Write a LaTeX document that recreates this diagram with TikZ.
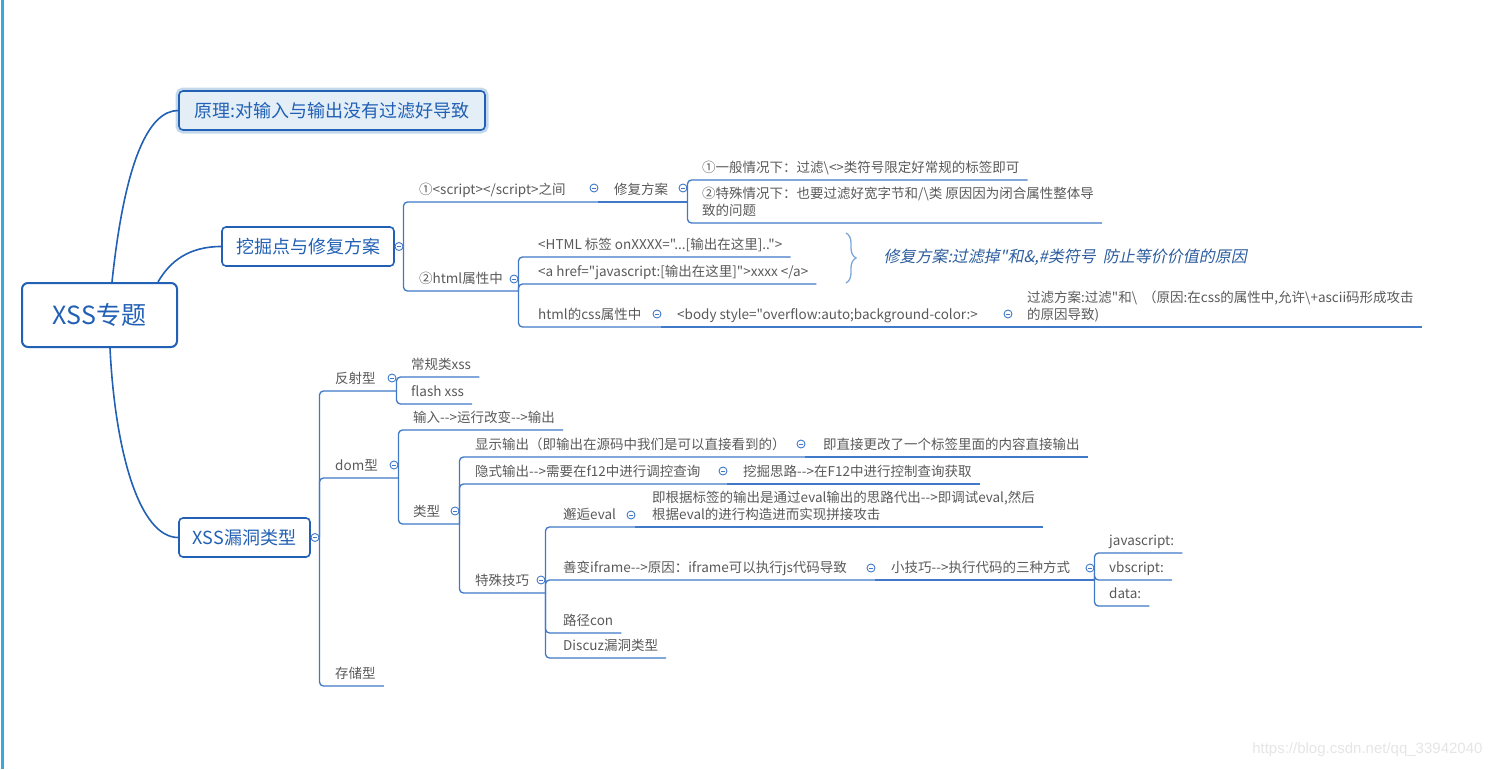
\documentclass[tikz,border=0pt]{standalone}
\usepackage{fontspec}
\setmainfont{Noto Sans CJK SC}[Ligatures=TeXOff]
\newfontfamily\slantfont{Noto Sans CJK SC}[FakeSlant=0.2,Ligatures=TeXOff]
\newfontfamily\markfont{Liberation Sans}
\usetikzlibrary{decorations.pathreplacing}
\definecolor{mapblue}{HTML}{2160B5}
\definecolor{linkblue}{HTML}{3F79C8}
\definecolor{leafgray}{HTML}{595959}
\definecolor{notefill}{HTML}{E3EEF7}
\definecolor{noteglow}{HTML}{C4D8EC}
\definecolor{sidebar}{HTML}{38A8DF}
\definecolor{braceblue}{HTML}{7EA8D8}
\definecolor{notetext}{HTML}{2D5D9E}
\newcommand{\leaffont}{\fontsize{13.5}{17}\selectfont}
\newcommand{\twoline}[2]{\begin{tabular}[b]{@{}l@{}}#1\\#2\end{tabular}}

\begin{document}
\begin{tikzpicture}[x=1pt, y=-1pt,
    root/.style={draw=mapblue, line width=2pt, rounded corners=6pt, text=mapblue, fill=white,
        font=\fontsize{25}{30}\selectfont, minimum width=155pt, minimum height=64pt},
    topic/.style={draw=mapblue, line width=1.6pt, rounded corners=4pt, text=mapblue, fill=white,
        font=\fontsize{18}{22}\selectfont, minimum height=39pt},
    leaf/.style={anchor=south west, text=leafgray, font=\leaffont, inner xsep=8pt, inner ysep=5pt, text depth=2pt},
    fold/.style={circle, draw=linkblue, fill=white, line width=0.9pt, inner sep=0pt, minimum size=8pt,
        path picture={\draw[linkblue, line width=0.8pt] ([xshift=-2.2pt]path picture bounding box.center) -- ([xshift=2.2pt]path picture bounding box.center);}},
    branch/.style={draw=linkblue, line width=1.3pt, rounded corners=4pt},
    trunk/.style={draw=mapblue, line width=1.6pt}]
    \useasboundingbox (0,0) rectangle (1494,769);
    \draw[sidebar, line width=3pt] (2,0) -- (2,769);

    \node[root] (xss) at (99.5,315) {XSS专题};
    \node[topic, minimum width=306pt, fill=notefill, preaction={draw=noteglow, line width=7pt}] (yuanli) at (332,110.5) {原理:对输入与输出没有过滤好导致};
    \node[topic, minimum width=172pt] (mine) at (308,246.5) {挖掘点与修复方案};
    \node[topic, minimum width=131pt] (types) at (244.5,537.5) {XSS漏洞类型};
    \draw[trunk] ([xshift=12.5pt]xss.north) .. controls +(13,-123) and +(-29,0) .. (yuanli.west);
    \draw[trunk] ([xshift=58.5pt]xss.north) .. controls +(12,-21) and +(-32,0) .. (mine.west);
    \draw[trunk] ([xshift=10.5pt]xss.south) .. controls +(5,103) and +(-39,0) .. (types.west);

    \node[leaf] (s1) at (411,202) {①<script></script>之间};
    \node[leaf] (fix) at (606,202) {修复方案};
    \node[leaf] (g1) at (694,180) {①一般情况下：过滤\textbackslash{}<>类符号限定好常规的标签即可};
    \node[leaf] (g2) at (694,223) {\twoline{②特殊情况下：也要过滤好宽字节和/\textbackslash{}类 原因因为闭合属性整体导}{致的问题}};
    \node[leaf] (html) at (411,291) {②html属性中};
    \node[leaf] (h1) at (530,257) {<HTML 标签 onXXXX="...[输出在这里]..">};
    \node[leaf] (h2) at (530,284) {<a href="javascript:[输出在这里]">xxxx </a>};
    \node[leaf] (h3) at (530,327) {html的css属性中};
    \node[leaf] (body) at (669,327) {<body style="overflow:auto;background-color:>};
    \node[leaf] (filt) at (1019,327) {\twoline{过滤方案:过滤"和\textbackslash{}\ \ （原因:在css的属性中,允许\textbackslash{}+ascii码形成攻击}{的原因导致)}};
    \node[anchor=west, text=notetext, font=\slantfont\fontsize{16}{19}\selectfont] (fixnote) at (880,257) {修复方案:过滤掉"和\&,\#类符号\ \ 防止等价价值的原因};
    \draw[braceblue, line width=1.3pt, decorate, decoration={brace, amplitude=10pt}] (846,233) -- (846,283);

    \node[leaf] (f) at (327,391) {反射型};
    \node[leaf] (f1) at (403,377) {常规类xss};
    \node[leaf] (f2) at (403,404) {flash xss};
    \node[leaf] (d) at (327,478) {dom型};
    \node[leaf] (d1) at (405,430) {输入-->运行改变-->输出};
    \node[leaf] (d2) at (405,524) {类型};
    \node[leaf] (t1) at (467,457) {显示输出（即输出在源码中我们是可以直接看到的）};
    \node[leaf] (t1a) at (815,457) {即直接更改了一个标签里面的内容直接输出};
    \node[leaf] (t2) at (467,484) {隐式输出-->需要在f12中进行调控查询};
    \node[leaf] (t2a) at (735,484) {挖掘思路-->在F12中进行控制查询获取};
    \node[leaf] (t3) at (467,593) {特殊技巧};
    \node[leaf] (e1) at (555,527) {邂逅eval};
    \node[leaf] (e1a) at (644,527) {\twoline{即根据标签的输出是通过eval输出的思路代出-->即调试eval,然后}{根据eval的进行构造进而实现拼接攻击}};
    \node[leaf] (e2) at (555,580) {善变iframe-->原因：iframe可以执行js代码导致};
    \node[leaf] (e2a) at (883,580) {小技巧-->执行代码的三种方式};
    \node[leaf] (k1) at (1101,553) {javascript:};
    \node[leaf] (k2) at (1101,580) {vbscript:};
    \node[leaf] (k3) at (1101,606) {data:};
    \node[leaf] (e3) at (555,633) {路径con};
    \node[leaf] (e4) at (555,658) {Discuz漏洞类型};
    \node[leaf] (c) at (327,686) {存储型};

    \node[fold] (mine-c) at (399,246.5) {};
    \node[fold] (s1-c) at (594,188) {};
    \node[fold] (fix-c) at (683,188) {};
    \node[fold] (html-c) at (514,279) {};
    \node[fold] (h3-c) at (657,314) {};
    \node[fold] (body-c) at (1008,314) {};
    \node[fold] (types-c) at (315,537.5) {};
    \node[fold] (f-c) at (392,378) {};
    \node[fold] (d-c) at (394,465) {};
    \node[fold] (d2-c) at (455,511) {};
    \node[fold] (t1-c) at (801,444) {};
    \node[fold] (t2-c) at (723,471) {};
    \node[fold] (t3-c) at (541,580) {};
    \node[fold] (e1-c) at (631,515) {};
    \node[fold] (e2-c) at (871,568) {};
    \node[fold] (e2a-c) at (1090,568) {};

    \draw[branch] (mine-c.east) |- (s1-c.east |- s1.south);
    \draw[branch] (s1-c.east |- s1.south) -- (fix-c.east |- fix.south);
    \draw[branch] (fix-c.east |- fix.south) |- (g1.south east);
    \draw[branch] (fix-c.east |- fix.south) |- (g2.south east);
    \draw[branch] (mine-c.east) |- (html-c.east |- html.south);
    \draw[branch] (html-c.east |- html.south) |- (h1.south east);
    \draw[branch] (html-c.east |- html.south) |- (h2.south east);
    \draw[branch] (html-c.east |- html.south) |- (h3-c.east |- h3.south);
    \draw[branch] (h3-c.east |- h3.south) -- (body-c.east |- body.south);
    \draw[branch] (body-c.east |- body.south) -- (filt.south east);

    \draw[branch] (types-c.east) |- (f-c.east |- f.south);
    \draw[branch] (f-c.east |- f.south) |- (f1.south east);
    \draw[branch] (f-c.east |- f.south) |- (f2.south east);
    \draw[branch] (types-c.east) |- (d-c.east |- d.south);
    \draw[branch] (d-c.east |- d.south) |- (d1.south east);
    \draw[branch] (d-c.east |- d.south) |- (d2-c.east |- d2.south);
    \draw[branch] (d2-c.east |- d2.south) |- (t1-c.east |- t1.south);
    \draw[branch] (t1-c.east |- t1.south) -- (t1a.south east);
    \draw[branch] (d2-c.east |- d2.south) |- (t2-c.east |- t2.south);
    \draw[branch] (t2-c.east |- t2.south) -- (t2a.south east);
    \draw[branch] (d2-c.east |- d2.south) |- (t3-c.east |- t3.south);
    \draw[branch] (t3-c.east |- t3.south) |- (e1-c.east |- e1.south);
    \draw[branch] (e1-c.east |- e1.south) -- (e1a.south east);
    \draw[branch] (t3-c.east |- t3.south) |- (e2-c.east |- e2.south);
    \draw[branch] (e2-c.east |- e2.south) -- (e2a-c.east |- e2a.south);
    \draw[branch] (e2a-c.east |- e2a.south) |- (k1.south east);
    \draw[branch] (e2a-c.east |- e2a.south) |- (k2.south east);
    \draw[branch] (e2a-c.east |- e2a.south) |- (k3.south east);
    \draw[branch] (t3-c.east |- t3.south) |- (e3.south east);
    \draw[branch] (t3-c.east |- t3.south) |- (e4.south east);
    \draw[branch] (types-c.east) |- (c.south east);

    \node[anchor=east, text=black!10, font=\markfont\fontsize{15}{18}\selectfont] (mark) at (1486,750) {https://blog.csdn.net/qq\_33942040};
\end{tikzpicture}
\end{document}
